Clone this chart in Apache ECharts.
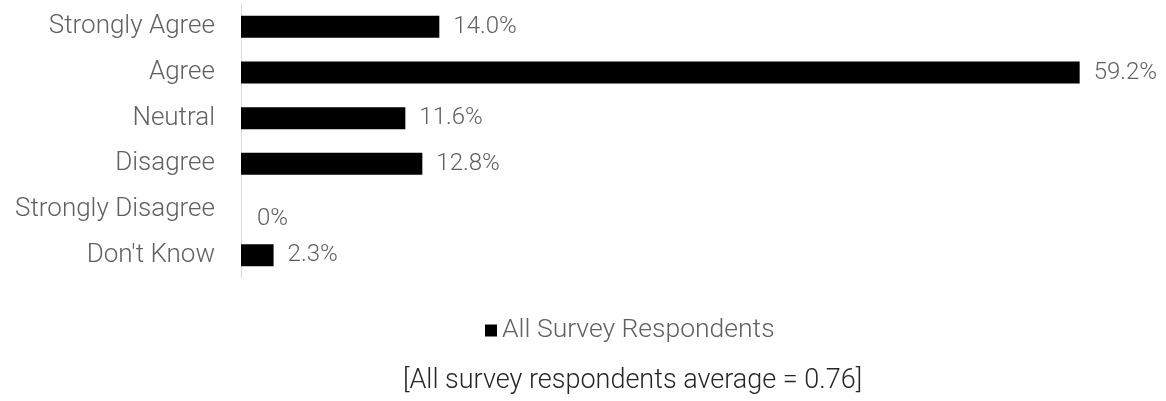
<!DOCTYPE html>
<html>
<head>
<meta charset="utf-8">
<script src="https://cdn.jsdelivr.net/npm/echarts@6/dist/echarts.min.js"></script>
<style>
  * { margin: 0; padding: 0; }
  html, body { background: #fff; }
  #chart { width: 1166px; height: 401px; }
</style>
</head>
<body>
<div id="chart"></div>
<script>
// categories top to bottom
const categories = ["Strongly Agree", "Agree", "Neutral", "Disagree", "Strongly Disagree", "Don't Know"];
const values = [14.0, 59.2, 11.6, 12.8, 0, 2.3];
const valueLabels = ["14.0%", "59.2%", "11.6%", "12.8%", "0%", "2.3%"];
const seriesName = "All Survey Respondents";
const footnote = "[All survey respondents average = 0.76]";

const chart = echarts.init(document.getElementById("chart"));
const font = "Roboto";
const grey = "#606060";

// zero bar: label sits a bit lower, like the original
const barData = values.map((v) => {
  if (v === 0) {
    return { value: v, label: { offset: [2, 9] } };
  }
  return v;
});

const option = {
  animation: false,
  grid: {
    left: 241,
    right: 75,
    top: 4,
    height: 274
  },
  legend: {
    data: [seriesName],
    top: 312,
    left: 480,
    icon: "rect",
    itemWidth: 12,
    itemHeight: 12,
    textStyle: { fontFamily: font, fontWeight: 300, fontSize: 26.5, color: grey }
  },
  graphic: [
    {
      type: "text",
      left: 403,
      top: 368,
      style: {
        text: footnote,
        fontFamily: font,
        fontWeight: 300,
        fontSize: 27,
        fill: "#262626"
      }
    }
  ],
  xAxis: {
    type: "value",
    min: 0,
    max: 60,
    show: false
  },
  yAxis: {
    type: "category",
    inverse: true,
    data: categories,
    axisLine: { show: true, lineStyle: { color: "#d9d9d9", width: 1 } },
    axisTick: { show: false },
    axisLabel: {
      margin: 26,
      fontFamily: font,
      fontWeight: 300,
      fontSize: 26,
      color: grey
    }
  },
  series: [
    {
      name: seriesName,
      type: "bar",
      data: barData,
      barWidth: 22,
      itemStyle: { color: "#000" },
      label: {
        show: true,
        position: "right",
        distance: 14,
        fontFamily: font,
        fontWeight: 300,
        fontSize: 24,
        color: grey,
        formatter: (p) => valueLabels[p.dataIndex]
      }
    }
  ]
};
chart.setOption(option);
</script>
</body>
</html>
